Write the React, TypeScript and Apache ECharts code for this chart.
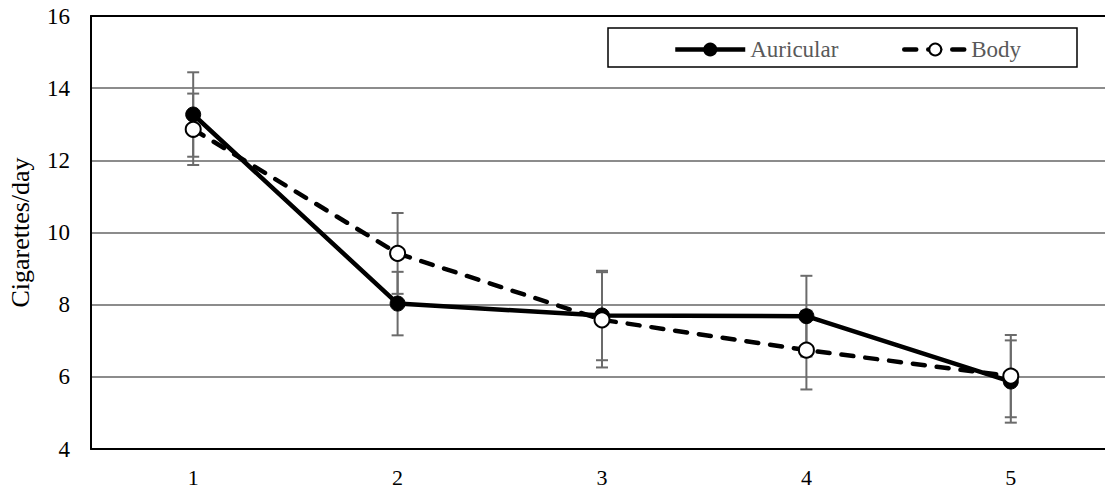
import React, { useEffect, useRef } from "react";
import * as echarts from "echarts";

const categories = ["1", "2", "3", "4", "5"];
const auricular = [13.27, 8.03, 7.7, 7.68, 5.87];
const auricularErr = [1.17, 0.88, 1.24, 1.12, 1.14];
const body = [12.86, 9.42, 7.58, 6.74, 6.02];
const bodyErr = [0.99, 1.12, 1.32, 1.09, 1.14];
const yTicks = { min: 4, max: 16, interval: 2 };

const FONT = "Times New Roman";

export default function App() {
  const ref = useRef<HTMLDivElement>(null);
  useEffect(() => {
    if (!ref.current) return;
    const chart = echarts.init(ref.current, undefined, { renderer: "svg" });
    const errData: number[][] = [];
    categories.forEach((_, i) => {
      errData.push([i, auricular[i] - auricularErr[i], auricular[i] + auricularErr[i]]);
      errData.push([i, body[i] - bodyErr[i], body[i] + bodyErr[i]]);
    });
    const renderItem = (params: any, api: any) => {
      const x = api.value(0);
      const lo = api.coord([x, api.value(1)]);
      const hi = api.coord([x, api.value(2)]);
      const w = 6;
      const style = { stroke: "#6b6b6b", lineWidth: 2, fill: "none" };
      return {
        type: "group",
        children: [
          { type: "line", shape: { x1: lo[0], y1: lo[1], x2: hi[0], y2: hi[1] }, style },
          { type: "line", shape: { x1: lo[0] - w, y1: lo[1], x2: lo[0] + w, y2: lo[1] }, style },
          { type: "line", shape: { x1: hi[0] - w, y1: hi[1], x2: hi[0] + w, y2: hi[1] }, style },
        ],
      };
    };
    const legendText = { color: "#595959", fontSize: 23, fontFamily: FONT };
    chart.setOption({
      animation: false,
      backgroundColor: "#fff",
      textStyle: { fontFamily: FONT },
      grid: {
        left: 91,
        top: 16,
        width: 1022,
        height: 433,
        show: false,
        containLabel: false,
        outerBoundsMode: "none",
      },
      legend: [
        {
          data: ["Auricular"],
          left: 668,
          top: 33,
          itemWidth: 70,
          itemHeight: 15,
          itemGap: 0,
          lineStyle: { width: 4.5 },
          textStyle: legendText,
          selectedMode: false,
        },
        {
          data: ["Body"],
          left: 897,
          top: 33,
          itemWidth: 62,
          itemHeight: 15,
          itemGap: 0,
          lineStyle: { width: 4.5 },
          textStyle: legendText,
          selectedMode: false,
        },
      ],
      graphic: [
        {
          type: "rect",
          shape: { x: 608, y: 28, width: 469, height: 39 },
          style: { fill: "none", stroke: "#000", lineWidth: 1.5 },
          z: 10,
        },
      ],
      xAxis: [
        {
          type: "category",
          data: categories,
          boundaryGap: true,
          axisLine: { lineStyle: { color: "#000", width: 2 } },
          axisTick: { show: false },
          axisLabel: { color: "#000", fontSize: 22, fontFamily: FONT, margin: 17 },
          splitLine: { show: false },
        },
        {
          type: "category",
          data: categories,
          position: "top",
          boundaryGap: true,
          axisLine: { lineStyle: { color: "#000", width: 2 } },
          axisTick: { show: false },
          axisLabel: { show: false },
          splitLine: { show: false },
        },
      ],
      yAxis: {
        type: "value",
        min: yTicks.min,
        max: yTicks.max,
        interval: yTicks.interval,
        name: "Cigarettes/day",
        nameLocation: "middle",
        nameGap: 58,
        nameTextStyle: { color: "#000", fontSize: 26, fontFamily: FONT },
        axisLine: { show: true, lineStyle: { color: "#000", width: 2 } },
        axisTick: { show: false },
        axisLabel: { color: "#000", fontSize: 23, fontFamily: FONT, margin: 21 },
        splitLine: { lineStyle: { color: "#8c8c8c", width: 2 } },
      },
      series: [
        {
          type: "custom",
          name: "err",
          renderItem,
          data: errData,
          z: 1,
          silent: true,
        },
        {
          type: "line",
          name: "Auricular",
          data: auricular,
          symbol: "circle",
          symbolSize: 15,
          showAllSymbol: true,
          lineStyle: { color: "#000", width: 4.5 },
          itemStyle: { color: "#000", borderColor: "#000", borderWidth: 1 },
          z: 3,
        },
        {
          type: "line",
          name: "Body",
          data: body,
          symbol: "circle",
          symbolSize: 15,
          showAllSymbol: true,
          lineStyle: { color: "#000", width: 4.5, type: [12, 12], cap: "round" },
          itemStyle: { color: "#fff", borderColor: "#000", borderWidth: 2 },
          z: 4,
        },
      ],
    });
    return () => chart.dispose();
  }, []);
  return (
    <div style={{ position: "absolute", left: 0, top: 0, width: 1105, height: 488, overflow: "hidden" }}>
      <div ref={ref} style={{ width: 1105, height: 488 }} />
    </div>
  );
}
